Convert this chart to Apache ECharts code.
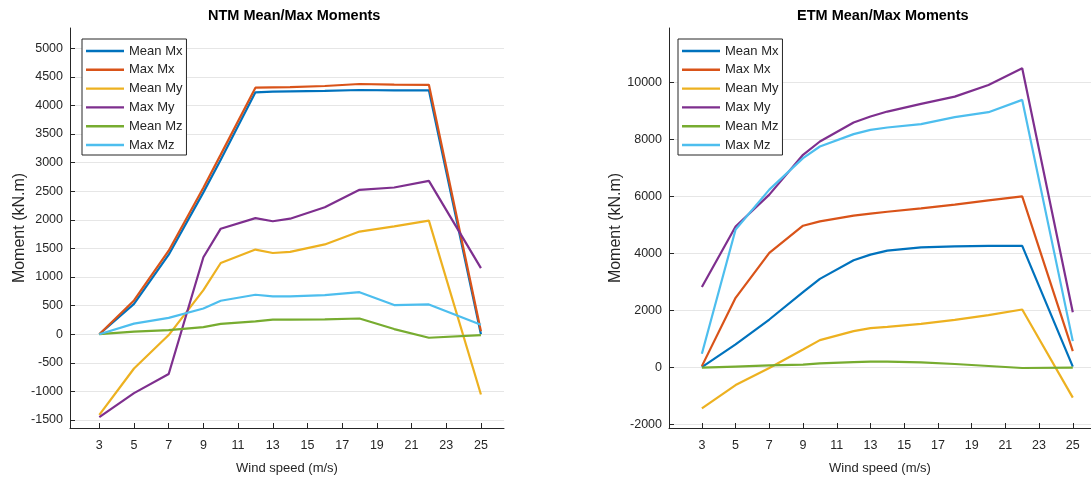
<!DOCTYPE html>
<html>
<head>
<meta charset="utf-8">
<script src="https://cdn.jsdelivr.net/npm/echarts@6/dist/echarts.min.js"></script>
<style>
  html, body { margin: 0; padding: 0; background: #ffffff; }
  #chart { width: 1091px; height: 480px; }
</style>
</head>
<body>
<div id="chart"></div>
<script>
// Wind speeds (m/s) at which moments were evaluated
const windSpeeds = [3, 5, 7, 9, 10, 12, 13, 14, 16, 18, 20, 22, 25];
const xTicks = [3, 5, 7, 9, 11, 13, 15, 17, 19, 21, 23, 25];
const seriesNames = ['Mean Mx', 'Max Mx', 'Mean My', 'Max My', 'Mean Mz', 'Max Mz'];

// NTM (kN.m)
const ntmMeanMx = [0, 530, 1390, 2480, 3050, 4230, 4240, 4245, 4255, 4270, 4265, 4265, 0];
const ntmMaxMx  = [0, 590, 1460, 2560, 3140, 4310, 4315, 4320, 4340, 4375, 4365, 4360, 50];
const ntmMeanMy = [-1410, -600, -15, 770, 1245, 1480, 1420, 1440, 1570, 1795, 1885, 1985, -1055];
const ntmMaxMy  = [-1450, -1030, -695, 1345, 1845, 2030, 1975, 2020, 2220, 2525, 2565, 2680, 1155];
const ntmMeanMz = [0, 45, 70, 125, 180, 225, 255, 255, 260, 275, 90, -62, -15];
const ntmMaxMz  = [0, 185, 285, 450, 585, 690, 662, 662, 685, 735, 510, 520, 165];
const ntmYTicks = [-1500, -1000, -500, 0, 500, 1000, 1500, 2000, 2500, 3000, 3500, 4000, 4500, 5000];

// ETM (kN.m)
const etmMeanMx = [20, 816, 1690, 2650, 3115, 3767, 3966, 4106, 4223, 4258, 4275, 4275, 40];
const etmMaxMx  = [55, 2450, 4025, 4980, 5133, 5332, 5402, 5470, 5588, 5717, 5868, 6008, 583];
const etmMeanMy = [-1425, -608, -10, 641, 968, 1283, 1388, 1435, 1540, 1680, 1843, 2041, -1050];
const etmMaxMy  = [2830, 4950, 6070, 7468, 7934, 8600, 8809, 8984, 9253, 9509, 9918, 10503, 1947];
const etmMeanMz = [0, 40, 80, 110, 150, 196, 210, 210, 190, 130, 60, -10, 0];
const etmMaxMz  = [490, 4850, 6245, 7351, 7759, 8192, 8343, 8424, 8542, 8787, 8962, 9393, 932];
const etmYTicks = [-2000, 0, 2000, 4000, 6000, 8000, 10000];

const colors = ['#0072BD', '#D95319', '#EDB120', '#7E2F8E', '#77AC30', '#4DBEEE'];
const FONT = '"Liberation Sans", Arial, Helvetica, sans-serif';
const AX = '#262626';

const ntmData = [ntmMeanMx, ntmMaxMx, ntmMeanMy, ntmMaxMy, ntmMeanMz, ntmMaxMz];
const etmData = [etmMeanMx, etmMaxMx, etmMeanMy, etmMaxMy, etmMeanMz, etmMaxMz];

function pairs(vals) { return windSpeeds.map((x, i) => [x, vals[i]]); }

function makeSeries(dataSet, idx) {
  return dataSet.map((vals, i) => ({
    name: seriesNames[i],
    type: 'line',
    xAxisIndex: idx,
    yAxisIndex: idx,
    data: pairs(vals),
    symbol: 'none',
    showSymbol: false,
    lineStyle: { width: 2.2, color: colors[i] },
    itemStyle: { color: colors[i] },
    animation: false
  }));
}

const plainNum = v => String(v);

function xAxisCfg(idx, min, max) {
  return {
    type: 'value', gridIndex: idx, min: min, max: max,
    name: 'Wind speed (m/s)', nameLocation: 'middle', nameGap: 34,
    nameTextStyle: { fontFamily: FONT, fontSize: 13, color: AX },
    axisLine: { show: true, onZero: false, lineStyle: { color: AX, width: 1 } },
    axisTick: { show: true, inside: true, length: 5, customValues: xTicks, lineStyle: { color: AX } },
    axisLabel: { customValues: xTicks, formatter: plainNum, fontFamily: FONT, fontSize: 12.5, color: AX, margin: 11 },
    splitLine: { show: false }
  };
}

function yAxisCfg(idx, min, max, ticks, gap) {
  return {
    type: 'value', gridIndex: idx, min: min, max: max,
    name: 'Moment (kN.m)', nameLocation: 'middle', nameGap: gap,
    nameTextStyle: { fontFamily: FONT, fontSize: 16, color: AX },
    axisLine: { show: true, onZero: false, lineStyle: { color: AX, width: 1 } },
    axisTick: { show: true, inside: true, length: 5, customValues: ticks, lineStyle: { color: AX } },
    axisLabel: { customValues: ticks, formatter: plainNum, fontFamily: FONT, fontSize: 12.5, color: AX, margin: 7 },
    splitLine: { show: true, lineStyle: { color: '#e6e6e6', width: 1 } }
  };
}

function legendCfg(left) {
  return {
    data: seriesNames, orient: 'vertical', left: left, top: 39,
    icon: 'rect', itemWidth: 38, itemHeight: 2.4, itemGap: 4.8,
    padding: [5, 4, 3, 4],
    borderColor: AX, borderWidth: 1, borderRadius: 0, backgroundColor: '#ffffff',
    textStyle: { fontFamily: FONT, fontSize: 13, color: AX, lineHeight: 14 },
    z: 10
  };
}

const chart = echarts.init(document.getElementById('chart'), null, { renderer: 'canvas' });
chart.setOption({
  animation: false,
  backgroundColor: '#ffffff',
  title: [
    { text: 'NTM Mean/Max Moments', left: 208, top: 8, padding: 0,
      textStyle: { fontFamily: FONT, fontSize: 14.5, fontWeight: 'bold', color: '#000' } },
    { text: 'ETM Mean/Max Moments', left: 797, top: 8, padding: 0,
      textStyle: { fontFamily: FONT, fontSize: 14.5, fontWeight: 'bold', color: '#000' } }
  ],
  legend: [legendCfg(82), legendCfg(678)],
  grid: [
    { left: 70, top: 28, width: 434, height: 401 },
    { left: 669, top: 28, width: 427, height: 401 }
  ],
  xAxis: [xAxisCfg(0, 1.31, 26.33), xAxisCfg(1, 1.05, 26.08)],
  yAxis: [yAxisCfg(0, -1640, 5354, ntmYTicks, 36), yAxisCfg(1, -2115, 11915, etmYTicks, 43)],
  series: makeSeries(ntmData, 0).concat(makeSeries(etmData, 1))
});
</script>
</body>
</html>
